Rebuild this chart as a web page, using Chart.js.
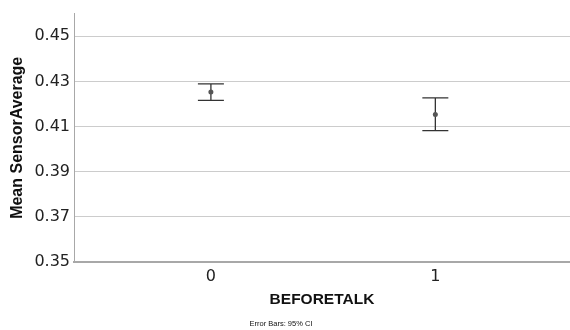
<!DOCTYPE html>
<html><head><meta charset="utf-8">
<script src="https://cdn.jsdelivr.net/npm/chart.js@4/dist/chart.umd.min.js"></script>
<style>html,body{margin:0;padding:0;background:#fff}#wrap{width:570px;height:330px}</style>
</head><body><div id="wrap"><canvas id="c" width="570" height="330"></canvas></div>
<script>
const categories = ["0", "1"];
const means = [0.4253, 0.4153];
const ciLower = [0.4216, 0.4082];
const ciUpper = [0.4289, 0.4227];
const yTicks = [0.35, 0.37, 0.39, 0.41, 0.43, 0.45];

const errorBars = {
  id: 'errorBars',
  beforeDatasetsDraw(chart) {
    const {ctx, scales: {x, y}} = chart;
    ctx.save();
    ctx.strokeStyle = '#333';
    ctx.lineWidth = 1.3;
    categories.forEach((c, i) => {
      const px = x.getPixelForValue(i);
      const lo = y.getPixelForValue(ciLower[i]);
      const hi = y.getPixelForValue(ciUpper[i]);
      ctx.beginPath();
      ctx.moveTo(px, lo); ctx.lineTo(px, hi);
      ctx.moveTo(px - 13, lo); ctx.lineTo(px + 13, lo);
      ctx.moveTo(px - 13, hi); ctx.lineTo(px + 13, hi);
      ctx.stroke();
    });
    ctx.restore();
  },
  afterDraw(chart) {
    const ctx = chart.ctx;
    ctx.save();
    ctx.font = '7.5px "Liberation Sans", Arial, sans-serif';
    ctx.fillStyle = '#111';
    ctx.textAlign = 'center';
    ctx.textBaseline = 'middle';
    ctx.fillText('Error Bars: 95% CI', 281, 324);
    ctx.restore();
  }
};

new Chart(document.getElementById('c'), {
  type: 'scatter',
  data: {
    datasets: [{
      data: means.map((m, i) => ({x: i, y: m})),
      pointRadius: 2.5,
      pointBackgroundColor: '#555',
      pointBorderColor: '#555',
      pointBorderWidth: 0,
      showLine: false
    }]
  },
  options: {
    responsive: false,
    animation: false,
    layout: {autoPadding: false, padding: {top: 13, right: 0, bottom: 0, left: 0}},
    plugins: {legend: {display: false}, tooltip: {enabled: false}},
    scales: {
      x: {
        type: 'linear',
        min: -0.61, max: 1.60,
        afterBuildTicks: s => { s.ticks = categories.map((c, i) => ({value: i})); },
        afterFit: s => { s.height = 68; },
        grid: {display: false, drawTicks: false},
        border: {display: true, color: '#a8a8a8', width: 2},
        ticks: {
          callback: (v) => categories[v],
          font: {family: '"DejaVu Sans"', size: 16},
          color: '#222',
          padding: 5,
          maxRotation: 0
        },
        title: {
          display: true, text: 'BEFORETALK',
          font: {family: '"Liberation Sans", Arial', size: 15.5, weight: 'bold'},
          color: '#111',
          padding: {top: 0, bottom: 21}
        }
      },
      y: {
        min: 0.35, max: 0.46,
        afterBuildTicks: s => { s.ticks = yTicks.map(v => ({value: v})); },
        afterFit: s => { s.width = 74; },
        grid: {color: '#cccccc', lineWidth: 1, drawTicks: false},
        border: {display: true, color: '#a8a8a8', width: 1},
        ticks: {
          callback: v => v.toFixed(2),
          font: {family: '"DejaVu Sans"', size: 16},
          color: '#222',
          padding: 4
        },
        title: {
          display: true, text: 'Mean SensorAverage',
          font: {family: '"Liberation Sans", Arial', size: 16, weight: 'bold'},
          color: '#111',
          padding: {top: 8, bottom: 0}
        }
      }
    }
  },
  plugins: [errorBars]
});
</script></body></html>
